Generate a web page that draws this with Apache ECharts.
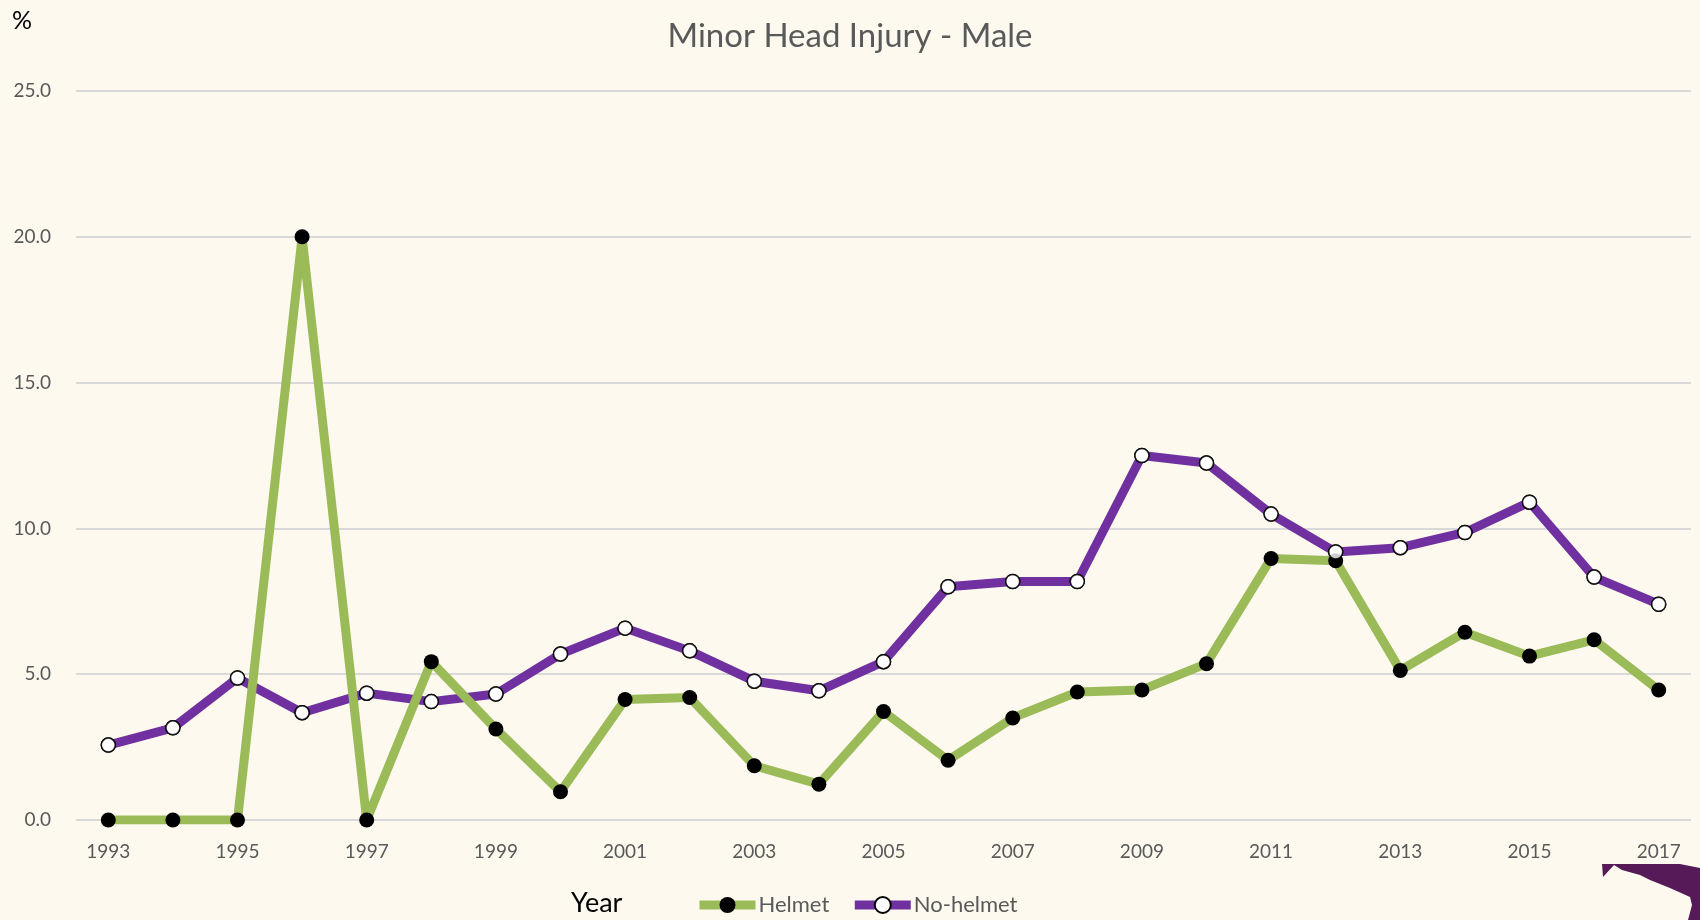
<!DOCTYPE html>
<html>
<head>
<meta charset="utf-8">
<script src="https://cdn.jsdelivr.net/npm/echarts@6/dist/echarts.min.js"></script>
<style>
html,body{margin:0;padding:0;background:#fdf9ee;}
#c{width:1700px;height:920px;}
</style>
</head>
<body>
<div id="c"></div>
<script>
const years = ['1993','1994','1995','1996','1997','1998','1999','2000','2001','2002','2003','2004','2005','2006','2007','2008','2009','2010','2011','2012','2013','2014','2015','2016','2017'];
const helmet = [0,0,0,20.0,0,5.43,3.12,0.97,4.13,4.2,1.86,1.23,3.72,2.05,3.5,4.39,4.46,5.36,8.97,8.89,5.13,6.44,5.62,6.18,4.46];
const noHelmet = [2.57,3.16,4.87,3.68,4.35,4.06,4.32,5.69,6.58,5.8,4.76,4.43,5.43,8.0,8.18,8.18,12.5,12.24,10.49,9.19,9.34,9.86,10.9,8.33,7.4];
const yTicks = {min:0, max:25, interval:5};

const font = 'Lato';
const chart = echarts.init(document.getElementById('c'), null, {renderer:'canvas'});
chart.setOption({
  backgroundColor:'#fdf9ee',
  animation:false,
  title:{
    text:'Minor Head Injury - Male', left:'center', top:15,
    textStyle:{fontFamily:font, fontSize:33, fontWeight:'normal', color:'#595959'}
  },
  graphic:[
    {type:'text', left:12, top:8, style:{text:'%', font:'25px '+font, fill:'#000'}},
    {type:'text', left:571, top:890, style:{text:'Year', font:'27px '+font, fill:'#000'}},
    {type:'polygon', z:100, shape:{points:[[1602,864],[1680,864],[1700,868],[1700,920],[1688,920],[1692,905],[1690,897],[1670,888],[1650,880],[1640,875],[1622,870],[1614,865],[1603,877]]}, style:{fill:'#551a57'}}
  ],
  legend:{
    left:690, top:889, itemGap:21, itemWidth:56, itemHeight:20,
    textStyle:{fontFamily:font, fontSize:22, color:'#595959', padding:[0,0,0,-2]},
    data:[
      {name:'Helmet', lineStyle:{width:9}},
      {name:'No-helmet', lineStyle:{width:9}}
    ]
  },
  grid:{left:76, right:9, top:91, bottom:100},
  xAxis:{
    type:'category', data:years, boundaryGap:true,
    axisLine:{show:false}, axisTick:{show:false},
    axisLabel:{interval:1, fontFamily:font, fontSize:19, color:'#595959', margin:22}
  },
  yAxis:{
    type:'value', min:yTicks.min, max:yTicks.max, interval:yTicks.interval,
    axisLine:{show:false}, axisTick:{show:false},
    axisLabel:{formatter:v=>v.toFixed(1), fontFamily:font, fontSize:19, color:'#595959', margin:25},
    splitLine:{lineStyle:{color:'#d9d9d9', width:2}}
  },
  series:[
    {name:'Helmet', type:'line', data:helmet, z:3, color:'#9bbb59',
     lineStyle:{width:9, color:'#9bbb59'}, symbol:'circle', symbolSize:15,
     itemStyle:{color:'#000', borderWidth:0}},
    {name:'No-helmet', type:'line', data:noHelmet, z:2, color:'#7030a0',
     lineStyle:{width:9, color:'#7030a0'}, symbol:'circle', symbolSize:14,
     itemStyle:{color:'#fff', borderColor:'#000', borderWidth:1.5}},
    {name:'nh-marks', type:'scatter', data:noHelmet, z:4, symbol:'circle', symbolSize:14,
     itemStyle:{color:'#fff', borderColor:'#000', borderWidth:1.5}, silent:true}
  ]
});
</script>
</body>
</html>
